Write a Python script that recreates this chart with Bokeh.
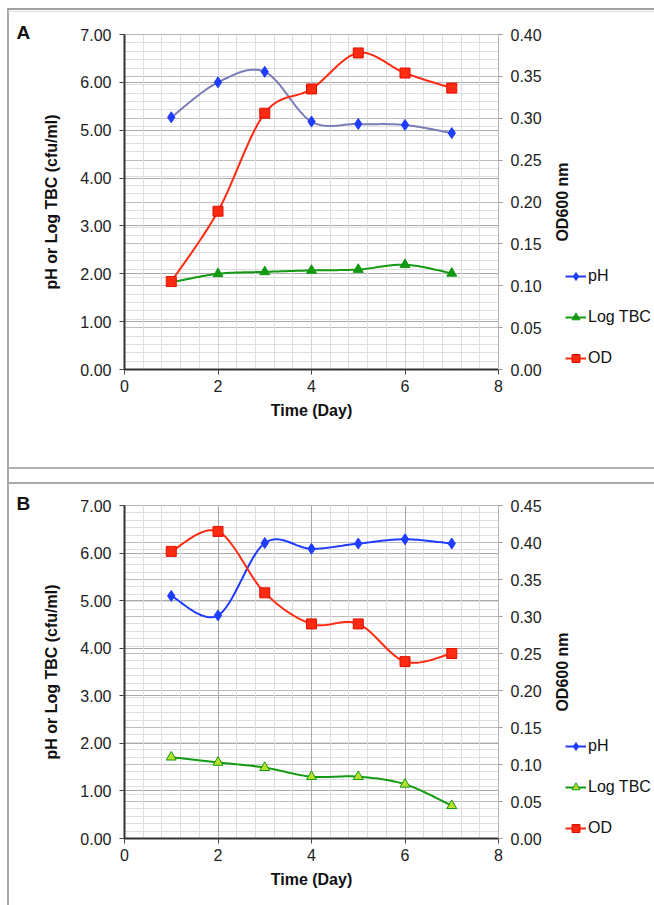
import numpy as np
from bokeh.plotting import figure
from bokeh.models import (Range1d, LinearAxis, SingleIntervalTicker, Grid, Legend,
                          LegendItem, PrintfTickFormatter, Label)
from bokeh.layouts import column, row
from bokeh.embed import file_html
from bokeh.resources import INLINE

# ---------------- data ----------------
days = [1, 2, 3, 4, 5, 6, 7]

ph_a = [5.27, 6.00, 6.22, 5.18, 5.13, 5.11, 4.94]
tbc_a = [1.82, 2.00, 2.04, 2.07, 2.09, 2.19, 2.01]
od_a = [0.105, 0.189, 0.306, 0.335, 0.378, 0.354, 0.336]

ph_b = [5.10, 4.69, 6.21, 6.09, 6.20, 6.29, 6.20]
tbc_b = [1.71, 1.60, 1.49, 1.30, 1.30, 1.14, 0.69]
od_b = [0.388, 0.415, 0.332, 0.290, 0.290, 0.239, 0.250]

x_max = 8
left_max = 7
od_max_a = 0.40
od_max_b = 0.45

series_names = ["pH", "Log TBC", "OD"]
panel_names = ["A", "B"]
left_title = "pH or Log TBC (cfu/ml)"
right_title = "OD600 nm"
x_title = "Time (Day)"

FONT = "Liberation Sans"
BLUE = "#1f3dff"
SLATE = "#7b7db8"
GREEN = "#139a13"
RED = "#ff2a12"

LETTER_W = 40
MAIN_W = 510
LEG_W = 654 - LETTER_W - MAIN_W


def smooth(xs, ys, n=24):
    """Catmull-Rom curve through the points (Excel-style smoothed line)."""
    P = np.column_stack([xs, ys]).astype(float)
    P = np.vstack([P[0], P, P[-1]])
    out = []
    for i in range(1, len(P) - 2):
        p0, p1, p2, p3 = P[i - 1], P[i], P[i + 1], P[i + 2]
        for t in np.linspace(0, 1, n, endpoint=False):
            t2, t3 = t * t, t * t * t
            pt = 0.5 * ((2 * p1) + (-p0 + p2) * t + (2 * p0 - 5 * p1 + 4 * p2 - p3) * t2
                        + (-p0 + 3 * p1 - 3 * p2 + p3) * t3)
            out.append(pt)
    out.append(P[-2])
    out = np.array(out)
    return out[:, 0], out[:, 1]


def lines_css(lines):
    parts = [f"linear-gradient({c},{c}) {x}px {y}px / {w}px {h}px no-repeat"
             for (x, y, w, h, c) in lines]
    return ", ".join(parts) + ", #ffffff"


def blank_fig(width, height):
    # ranges far away from the data, so that legend-key renderers stay off view
    f = figure(width=width, height=height, x_range=Range1d(100, 101), y_range=Range1d(100, 101),
               output_backend="svg", toolbar_location=None, min_border=0,
               min_border_left=0, min_border_right=0, min_border_top=0, min_border_bottom=0,
               background_fill_color=None, border_fill_color=None, outline_line_color=None)
    f.axis.visible = False
    f.grid.visible = False
    return f


def make_panel(name, ph, tbc, od, od_max, height, top, bottom, ph_line_color,
               tbc_fill, legend_bottom, legend_spacing, vmajor_color):
    p = figure(width=MAIN_W, height=height, x_range=Range1d(0, x_max),
               y_range=Range1d(0, left_max), output_backend="svg", toolbar_location=None,
               min_border_left=80, min_border_right=MAIN_W - 80 - 378, min_border_top=top,
               min_border_bottom=bottom, background_fill_color="white",
               border_fill_color=None, outline_line_color="#b4b4b4", outline_line_width=1)
    p.extra_y_ranges = {"od": Range1d(0, od_max)}
    p.xgrid.visible = False
    p.ygrid.visible = False

    # grids
    p.add_layout(Grid(dimension=1, y_range_name="od",
                      ticker=SingleIntervalTicker(interval=0.05, num_minor_ticks=5),
                      grid_line_color="#bdbdbd", grid_line_width=1.2,
                      minor_grid_line_color="#dedede", minor_grid_line_width=1))
    p.add_layout(Grid(dimension=1, ticker=SingleIntervalTicker(interval=1),
                      grid_line_color="#a9a9a9", grid_line_width=1.2))
    p.add_layout(Grid(dimension=0, ticker=SingleIntervalTicker(interval=2, num_minor_ticks=5),
                      grid_line_color=vmajor_color, grid_line_width=1,
                      minor_grid_line_color="#dedede", minor_grid_line_width=1))

    # axes
    yl = p.left[0]
    yl.ticker = SingleIntervalTicker(interval=1)
    yl.formatter = PrintfTickFormatter(format="%.2f")
    yl.axis_label = left_title
    xb = p.below[0]
    xb.ticker = SingleIntervalTicker(interval=2)
    xb.axis_label = x_title
    yr = LinearAxis(y_range_name="od", ticker=SingleIntervalTicker(interval=0.05),
                    formatter=PrintfTickFormatter(format="%.2f"))
    p.add_layout(yr, "right")

    for ax in (yl, xb, yr):
        ax.major_label_text_font = FONT
        ax.major_label_text_font_size = "16px"
        ax.major_label_text_color = "#222222"
        ax.axis_label_text_font = FONT
        ax.axis_label_text_font_size = "16px"
        ax.axis_label_text_font_style = "bold"
        ax.axis_label_text_color = "#111111"
        ax.minor_tick_line_color = None
        ax.major_tick_in = 0
        ax.major_tick_out = 5
        ax.major_tick_line_color = "#444444"
        ax.major_label_standoff = 8
    yl.axis_line_color = "#333333"
    yl.axis_line_width = 2
    yl.axis_label_standoff = 17
    xb.axis_line_color = "#333333"
    xb.axis_line_width = 2
    xb.major_label_standoff = 5
    xb.axis_label_standoff = 7
    yr.axis_line_color = "#b4b4b4"
    yr.major_tick_line_color = "#999999"
    yr.major_tick_out = 4
    yr.major_label_standoff = 8

    # series
    sx, sy = smooth(days, ph)
    p.line(sx, sy, line_color=ph_line_color, line_width=2)
    p.scatter(days, ph, marker="diamond", size=11, fill_color=BLUE, line_color=BLUE)

    sx, sy = smooth(days, tbc)
    p.line(sx, sy, line_color=GREEN, line_width=2)
    p.scatter(days, tbc, marker="triangle", size=10, fill_color=tbc_fill, line_color=GREEN)

    sx, sy = smooth(days, od)
    p.line(sx, sy, line_color=RED, line_width=2, y_range_name="od")
    p.scatter(days, od, marker="square", size=10, fill_color=RED, line_color="#e01000",
              y_range_name="od")

    frame_h = height - top - bottom

    # strip to the right: right-axis title + legend
    lg = blank_fig(LEG_W, height)
    lg.add_layout(Label(x=12, y=frame_h / 2, x_units="screen", y_units="screen",
                        text=right_title, angle=np.pi / 2, text_align="center",
                        text_baseline="middle", text_font=FONT, text_font_size="16px",
                        text_font_style="bold", text_color="#111111"))
    k1 = [lg.line(days, ph, line_color=BLUE, line_width=2),
          lg.scatter(days, ph, marker="diamond", size=9, fill_color=BLUE, line_color=BLUE)]
    k2 = [lg.line(days, tbc, line_color=GREEN, line_width=2),
          lg.scatter(days, tbc, marker="triangle", size=8, fill_color=tbc_fill,
                     line_color=GREEN)]
    k3 = [lg.line(days, od, line_color=RED, line_width=2),
          lg.scatter(days, od, marker="square", size=8, fill_color=RED, line_color="#e01000")]
    legend = Legend(items=[LegendItem(label=series_names[0], renderers=k1),
                           LegendItem(label=series_names[1], renderers=k2),
                           LegendItem(label=series_names[2], renderers=k3)],
                    location=(15, legend_bottom), border_line_color=None,
                    background_fill_alpha=0, padding=0, margin=0, spacing=legend_spacing,
                    glyph_height=20, glyph_width=21, label_height=20, label_standoff=2,
                    label_text_font=FONT, label_text_font_size="16px",
                    label_text_color="#111111")
    lg.add_layout(legend)

    # panel letter strip
    lt = blank_fig(LETTER_W, height)
    lt.title.text = name
    lt.title.align = "left"
    lt.title.offset = 16
    lt.title.standoff = -16
    lt.title.text_font = FONT
    lt.title.text_font_size = "19px"
    lt.title.text_font_style = "bold"
    lt.title.text_color = "#111111"
    return row(lt, p, lg, spacing=0)


ra = make_panel(panel_names[0], ph_a, tbc_a, od_a, od_max_a, height=476, top=34, bottom=107,
                ph_line_color=SLATE, tbc_fill=GREEN, legend_bottom=1, legend_spacing=21,
                vmajor_color="#d4d4d4")
rb = make_panel(panel_names[1], ph_b, tbc_b, od_b, od_max_b, height=429, top=29, bottom=67,
                ph_line_color=BLUE, tbc_fill="#b8e02a", legend_bottom=0, legend_spacing=21,
                vmajor_color="#a8a8a8")

frame_lines = [(8, 8, 646, 2, "#a0a0a0"), (8, 11, 646, 1, "#dcdcdc"),
               (7, 8, 2, 897, "#a8a8a8"), (8, 467, 646, 2, "#b0b0b0"),
               (8, 482, 646, 2, "#a8a8a8")]
layout = column(ra, rb, spacing=0, styles={"background": lines_css(frame_lines)})
open("out.html", "w").write(file_html(layout, INLINE))
